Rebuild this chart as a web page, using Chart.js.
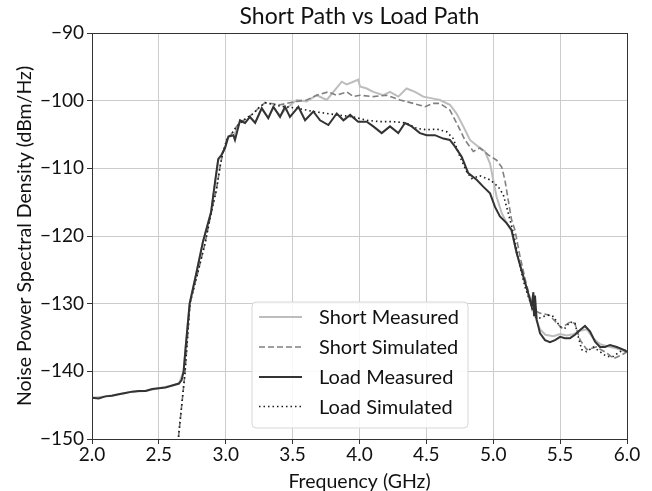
<!DOCTYPE html>
<html>
<head>
<meta charset="utf-8">
<script src="https://cdn.jsdelivr.net/npm/chart.js@4.4.1/dist/chart.umd.min.js"></script>
<style>
  html, body { margin: 0; padding: 0; background: #fff; }
  #wrap { width: 652px; height: 491px; position: relative; }
</style>
</head>
<body>
<div id="wrap"><canvas id="c" width="652" height="491"></canvas></div>
<script>
const chartTitle = "Short Path vs Load Path";
const xTitle = "Frequency (GHz)";
const yTitle = "Noise Power Spectral Density (dBm/Hz)";
const seriesNames = ["Short Measured", "Short Simulated", "Load Measured", "Load Simulated"];
const xTicks = [2.0, 2.5, 3.0, 3.5, 4.0, 4.5, 5.0, 5.5, 6.0];
const yTicks = [-150, -140, -130, -120, -110, -100, -90];

const shortMeasFreq = [2.00,2.10,2.20,2.30,2.40,2.50,2.60,2.65,2.685,2.70,2.73,2.78,2.83,2.89,2.944,2.994,3.02,3.06,3.107,3.144,3.18,3.22,3.269,3.318,3.356,3.406,3.455,3.53,3.605,3.68,3.755,3.817,3.867,3.904,3.954,3.99,4.004,4.054,4.103,4.178,4.228,4.29,4.352,4.415,4.477,4.552,4.602,4.676,4.726,4.776,4.826,4.888,4.938,4.976,5.0,5.025,5.063,5.1,5.137,5.175,5.21,5.25,5.29,5.32,5.35,5.39,5.45,5.5,5.55,5.6,5.65,5.7,5.75,5.8,5.85,5.9,5.95,6.0];
const shortMeasVals = [-143.9,-143.7,-143.4,-143.0,-142.9,-142.5,-142.1,-141.8,-140.0,-136.5,-130.0,-125.5,-120.8,-116.5,-108.8,-107.0,-105.3,-105.2,-103.0,-103.3,-102.4,-103.2,-101.2,-102.5,-101.0,-102.2,-101.1,-99.9,-100.1,-99.2,-99.9,-98.4,-97.2,-97.6,-97.2,-96.9,-97.9,-98.2,-98.7,-99.2,-98.7,-99.4,-98.2,-98.7,-99.4,-99.7,-99.9,-100.6,-101.9,-103.8,-105.8,-106.8,-107.5,-109.3,-111.7,-114.2,-116.6,-118.1,-119.3,-122.5,-125.0,-127.8,-130.5,-132.3,-133.8,-134.6,-134.8,-134.5,-134.7,-134.5,-134.0,-133.8,-135.2,-136.0,-136.3,-136.5,-136.8,-137.2];

const shortSimFreq = [2.64,2.695,2.733,2.79,2.845,2.895,2.93,2.957,2.975,3.007,3.04,3.082,3.132,3.206,3.25,3.294,3.406,3.53,3.605,3.68,3.767,3.83,3.904,3.954,4.004,4.103,4.203,4.303,4.402,4.49,4.552,4.602,4.676,4.726,4.788,4.851,4.9,4.963,5.025,5.063,5.087,5.112,5.137,5.162,5.2,5.24,5.28,5.31,5.35,5.42,5.51,5.574,5.61,5.65,5.7,5.77,5.85,5.9,5.96,6.0];
const shortSimVals = [-151,-140.3,-129.9,-125.5,-121.1,-116.2,-113.2,-109.8,-108.0,-105.8,-105.0,-103.8,-102.9,-101.9,-101.0,-100.3,-100.6,-100.1,-99.9,-99.2,-98.7,-99.2,-98.7,-99.4,-99.2,-99.4,-99.2,-99.9,-100.4,-100.9,-100.4,-100.4,-101.4,-103.3,-105.8,-107.5,-107.0,-108.0,-108.8,-109.8,-111.7,-114.7,-117.6,-119.1,-123.0,-126.5,-129.5,-131.0,-131.4,-131.7,-133.6,-132.7,-132.9,-135.4,-136.8,-136.4,-137.3,-138.1,-137.6,-137.1];

const loadMeasFreq = [2.00,2.05,2.10,2.15,2.20,2.25,2.30,2.35,2.40,2.45,2.50,2.55,2.60,2.65,2.67,2.685,2.70,2.73,2.78,2.83,2.89,2.92,2.944,2.97,2.994,3.02,3.057,3.069,3.107,3.144,3.18,3.22,3.269,3.318,3.356,3.406,3.443,3.48,3.543,3.593,3.655,3.705,3.767,3.83,3.88,3.93,3.99,4.054,4.103,4.166,4.228,4.29,4.34,4.39,4.452,4.502,4.564,4.626,4.676,4.714,4.764,4.813,4.876,4.925,4.976,5.013,5.05,5.1,5.137,5.175,5.225,5.262,5.287,5.30,5.305,5.312,5.325,5.35,5.387,5.424,5.462,5.50,5.537,5.574,5.611,5.649,5.686,5.723,5.761,5.798,5.836,5.873,5.923,5.972,6.00];
const loadMeasVals = [-143.9,-144.0,-143.7,-143.6,-143.4,-143.2,-143.0,-142.9,-142.9,-142.6,-142.5,-142.4,-142.1,-141.8,-141.3,-140.0,-136.5,-130.0,-125.5,-120.8,-116.5,-112.0,-108.6,-108.0,-107.0,-105.3,-105.1,-105.8,-102.9,-103.3,-102.4,-103.3,-101.1,-102.6,-100.9,-102.4,-100.9,-102.4,-100.9,-102.9,-101.6,-102.9,-103.6,-101.9,-102.9,-102.1,-103.1,-103.1,-103.8,-104.8,-103.8,-104.8,-103.3,-103.8,-104.8,-105.1,-105.1,-105.6,-105.8,-106.8,-108.3,-110.7,-111.7,-112.7,-113.7,-115.7,-117.1,-118.1,-119.1,-122.5,-126.0,-128.5,-130.4,-128.3,-131.7,-128.8,-132.4,-134.4,-135.4,-135.7,-135.4,-134.9,-135.1,-135.1,-134.6,-133.9,-133.3,-134.1,-135.6,-136.4,-136.4,-136.1,-136.4,-136.8,-137.1];

const loadSimFreq = [2.64,2.695,2.733,2.79,2.845,2.895,2.93,2.957,2.975,3.007,3.04,3.082,3.132,3.206,3.25,3.294,3.406,3.53,3.655,3.83,3.954,4.054,4.153,4.253,4.352,4.427,4.502,4.577,4.652,4.701,4.751,4.801,4.838,4.9,4.976,5.037,5.075,5.1,5.125,5.15,5.2,5.237,5.287,5.312,5.337,5.374,5.411,5.449,5.5,5.537,5.574,5.611,5.636,5.661,5.698,5.748,5.798,5.848,5.897,5.947,6.0];
const loadSimVals = [-151,-140.3,-129.9,-125.5,-121.1,-116.2,-113.2,-109.8,-108.0,-105.8,-105.0,-103.8,-102.9,-101.9,-101.0,-100.3,-100.8,-101.1,-101.6,-102.1,-102.4,-102.9,-103.1,-103.1,-103.3,-104.1,-104.3,-104.2,-104.6,-105.6,-108.3,-110.5,-111.5,-111.1,-111.7,-112.7,-113.9,-115.7,-117.6,-119.5,-124.5,-127.5,-130.4,-131.9,-132.2,-131.9,-131.7,-131.9,-133.4,-133.6,-132.7,-132.9,-134.9,-136.8,-137.1,-136.4,-137.1,-137.8,-137.8,-137.1,-136.8];

function pts(xs, ys) { return xs.map((x, i) => ({ x: x, y: ys[i] })); }

const styles = [
  { color: '#bdbdbd', width: 2.0, dash: [], order: 3 },
  { color: '#808080', width: 1.6, dash: [6, 3], order: 2 },
  { color: '#333333', width: 2.0, dash: [], order: 0 },
  { color: '#1a1a1a', width: 1.6, dash: [1.5, 3], order: 1 }
];
const seriesData = [
  pts(shortMeasFreq, shortMeasVals),
  pts(shortSimFreq, shortSimVals),
  pts(loadMeasFreq, loadMeasVals),
  pts(loadSimFreq, loadSimVals)
];

const FONT = 'Lato, "Open Sans", sans-serif';
const minus = v => String(v).replace('-', '\u2212');

const framePlugin = {
  id: 'frame',
  afterDatasetsDraw(chart) {
    const { ctx, chartArea: a } = chart;
    ctx.save();
    ctx.strokeStyle = '#333';
    ctx.lineWidth = 1;
    ctx.strokeRect(Math.round(a.left) + 0.5, Math.round(a.top) + 0.5, Math.round(a.right - a.left), Math.round(a.bottom - a.top));
    ctx.restore();
  },
  afterDraw(chart) {
    const { ctx, chartArea: a } = chart;
    ctx.save();
    ctx.fillStyle = '#111';
    ctx.font = '23px ' + FONT;
    ctx.textAlign = 'center';
    ctx.textBaseline = 'middle';
    ctx.fillText(chartTitle, (a.left + a.right) / 2, 17);
    const lx = 252, ly = 302, lw = 216, lh = 126, r = 4;
    ctx.beginPath();
    ctx.moveTo(lx + r, ly);
    ctx.arcTo(lx + lw, ly, lx + lw, ly + lh, r);
    ctx.arcTo(lx + lw, ly + lh, lx, ly + lh, r);
    ctx.arcTo(lx, ly + lh, lx, ly, r);
    ctx.arcTo(lx, ly, lx + lw, ly, r);
    ctx.closePath();
    ctx.fillStyle = 'rgba(255,255,255,0.85)';
    ctx.fill();
    ctx.strokeStyle = '#d6d6d6';
    ctx.lineWidth = 1;
    ctx.stroke();
    const rows = [317, 347, 377, 406.5];
    seriesNames.forEach((name, i) => {
      const s = styles[i];
      ctx.beginPath();
      ctx.setLineDash(s.dash);
      ctx.strokeStyle = s.color;
      ctx.lineWidth = s.width;
      ctx.moveTo(259, rows[i]);
      ctx.lineTo(302, rows[i]);
      ctx.stroke();
      ctx.setLineDash([]);
      ctx.fillStyle = '#111';
      ctx.font = '20px ' + FONT;
      ctx.textAlign = 'left';
      ctx.textBaseline = 'middle';
      ctx.fillText(name, 319, rows[i] + 1);
    });
    ctx.restore();
  }
};

new Chart(document.getElementById('c'), {
  type: 'line',
  data: {
    datasets: seriesNames.map((name, i) => ({
      label: name,
      data: seriesData[i],
      borderColor: styles[i].color,
      borderWidth: styles[i].width,
      borderDash: styles[i].dash,
      order: styles[i].order,
      pointRadius: 0,
      tension: 0,
      fill: false
    }))
  },
  options: {
    responsive: false,
    animation: false,
    devicePixelRatio: 1,
    layout: { padding: { top: 33, right: 25, left: 0, bottom: 0 } },
    plugins: { legend: { display: false }, title: { display: false }, tooltip: { enabled: false } },
    scales: {
      x: {
        type: 'linear', min: 2, max: 6,
        afterBuildTicks: s => { s.ticks = xTicks.map(v => ({ value: v })); },
        afterFit: s => { s.height = 52; },
        ticks: { callback: v => Number(v).toFixed(1), color: '#111', font: { family: FONT, size: 19, lineHeight: 1.0 }, padding: 1, maxRotation: 0, autoSkip: false },
        grid: { color: '#cccccc', lineWidth: 1, tickColor: '#333', tickLength: 5 },
        border: { display: true, color: '#333' },
        title: { display: true, text: xTitle, color: '#111', font: { family: FONT, size: 19.5, lineHeight: 1.0 }, padding: { top: 0, bottom: 0 } }
      },
      y: {
        type: 'linear', min: -150, max: -90,
        afterBuildTicks: s => { s.ticks = yTicks.map(v => ({ value: v })); },
        afterFit: s => { s.width = 92; },
        ticks: { callback: v => minus(v), color: '#111', font: { family: FONT, size: 19 }, padding: 3, autoSkip: false },
        grid: { color: '#cccccc', lineWidth: 1, tickColor: '#333', tickLength: 5 },
        border: { display: true, color: '#333' },
        title: { display: true, text: yTitle, color: '#111', font: { family: FONT, size: 19.5, lineHeight: 1.0 }, padding: { top: 15, bottom: 0 } }
      }
    }
  },
  plugins: [framePlugin]
});
</script>
</body>
</html>
